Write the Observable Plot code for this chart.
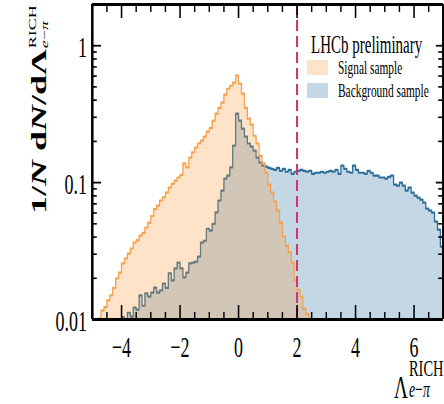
<!DOCTYPE html>
<html>
<head>
<meta charset="utf-8">
<script src="https://cdn.jsdelivr.net/npm/d3@7"></script>
<script src="https://cdn.jsdelivr.net/npm/@observablehq/plot@0.6"></script>
<style>
  html, body { margin: 0; padding: 0; background: #fff; }
  #chart { position: relative; width: 444px; height: 404px; overflow: hidden; }
  #chart svg { display: block; transform-origin: 0 0; max-width: none !important; width: 740px !important; height: 404px !important; }
</style>
</head>
<body>
<div id="chart"></div>
<script>
// Axis ranges
const xDomain = [-5, 7];
const yDomain = [0.01, 2];

// Histogram binning (bin width 0.1 in the RICH e-pi delta log-likelihood)
const binWidth = 0.1;

// Signal sample (electrons), normalised counts per bin, first bin edge at -4.8
const signalFirstEdge = -4.8;
const signalValues = [
  0.0102, 0.0116, 0.0123, 0.0138, 0.015, 0.017, 0.020, 0.022, 0.0257, 0.0279,
  0.0303, 0.033, 0.0365, 0.038, 0.041, 0.043, 0.047, 0.051, 0.057, 0.064,
  0.068, 0.074, 0.078, 0.0845, 0.092, 0.098, 0.1035, 0.109, 0.114,
  0.138, 0.129, 0.152, 0.166, 0.18, 0.193, 0.203, 0.217, 0.236, 0.25,
  0.284, 0.319, 0.352, 0.384, 0.439, 0.485, 0.51, 0.537, 0.604,
  0.528, 0.446, 0.352, 0.293, 0.265, 0.22, 0.193, 0.157, 0.138, 0.118,
  0.0967, 0.0845, 0.0727, 0.0625, 0.051, 0.0404, 0.0347, 0.0309, 0.026, 0.0193,
  0.0165, 0.0147, 0.012, 0.011
];

// Background sample (pions), normalised counts per bin, first bin edge at -4.0
const backgroundFirstEdge = -4.0;
const backgroundValues = [
  0.0104, 0.01, 0.0112, 0.0105, 0.0122, 0.0118, 0.015, 0.0126, 0.0155, 0.0147,
  0.0157, 0.0171, 0.0157, 0.0163, 0.0183, 0.017, 0.0217, 0.0193, 0.0236, 0.026,
  0.0236, 0.0203, 0.022, 0.0257, 0.026, 0.0265, 0.0288, 0.0365, 0.0376, 0.046,
  0.0446, 0.050, 0.0606, 0.074, 0.0875, 0.107, 0.1125, 0.129, 0.186, 0.319,
  0.284, 0.248, 0.217, 0.193, 0.183, 0.171, 0.152, 0.14, 0.133, 0.131,
  0.128, 0.126, 0.124, 0.128, 0.122, 0.126, 0.12, 0.124, 0.116, 0.12,
  0.122, 0.124, 0.122, 0.12, 0.122, 0.116, 0.118, 0.118, 0.12, 0.118,
  0.12, 0.122, 0.12, 0.124, 0.116, 0.133, 0.126, 0.12, 0.118, 0.133,
  0.124, 0.118, 0.118, 0.116, 0.122, 0.118, 0.1125, 0.1125, 0.109, 0.109,
  0.107, 0.11, 0.1125, 0.0967, 0.095, 0.1, 0.095, 0.0875, 0.092, 0.0845,
  0.0804, 0.0777, 0.075, 0.0714, 0.0645, 0.0625, 0.0604, 0.0519, 0.0454, 0.0341
];

// Selection cut on the likelihood variable
const cutValue = [2];

// Axis ticks and labels
const xMajorTicks = [-4, -2, 0, 2, 4, 6];
const xMinorTicks = [-4.5, -3.5, -3, -2.5, -1.5, -1, -0.5, 0.5, 1, 1.5, 2.5, 3, 3.5, 4.5, 5, 5.5, 6.5];
const yMajorTicks = [0.01, 0.1, 1];
const yTickLabels = ["0.01", "0.1", "1"];
const yMinorTicks = [0.02, 0.03, 0.04, 0.05, 0.06, 0.07, 0.08, 0.09,
                     0.2, 0.3, 0.4, 0.5, 0.6, 0.7, 0.8, 0.9, 2];

const legendTitle = "LHCb preliminary";
const seriesNames = ["Signal sample", "Background sample"];

// Colours
const signalFill = "#fb9a3c", signalFillOpacity = 0.28, signalLine = "#f4a24f";
const backgroundFill = "#c3d7e5", backgroundLine = "#2e6f98";
const cutColour = "#cf3570";

// The figure is laid out in a wide frame and squeezed horizontally,
// giving the narrow lettering of the printed plot.
const squeeze = 0.6;
const W = 444 / squeeze;
const H = 404;
const marginLeft = 92 / squeeze;
const marginRight = W - 443 / squeeze;
const marginTop = 4;
const marginBottom = 85;
const innerW = W - marginLeft - marginRight;
const innerH = H - marginTop - marginBottom;
const serif = "'Liberation Serif', 'Times New Roman', Times, serif";

// Step outline of a histogram: rises from the floor at the first edge,
// runs across each bin, and drops back to the floor at the last edge.
function stepOutline(firstEdge, values) {
  const floor = yDomain[0];
  const edge = i => +(firstEdge + i * binWidth).toFixed(3);
  const pts = [{x: edge(0), v: floor}];
  values.forEach((v, i) => pts.push({x: edge(i), v}));
  pts.push({x: edge(values.length), v: values[values.length - 1]});
  pts.push({x: edge(values.length), v: floor});
  return pts;
}

const signal = stepOutline(signalFirstEdge, signalValues);
const background = stepOutline(backgroundFirstEdge, backgroundValues);
const fmtX = d => d < 0 ? "\u2212" + Math.abs(d) : String(d);

const chart = Plot.plot({
  width: W,
  height: H,
  marginLeft, marginRight, marginTop, marginBottom,
  x: {domain: xDomain, axis: null},
  y: {type: "log", domain: yDomain, axis: null},
  style: {fontFamily: serif, background: "#fff", overflow: "visible"},
  marks: [
    Plot.areaY(background, {x: "x", y1: yDomain[0], y2: "v", curve: "step-after", fill: backgroundFill, clip: true}),
    Plot.lineY(background, {x: "x", y: "v", curve: "step-after", stroke: backgroundLine, strokeWidth: 2.2, clip: true}),
    Plot.areaY(signal, {x: "x", y1: yDomain[0], y2: "v", curve: "step-after", fill: signalFill, fillOpacity: signalFillOpacity, clip: true}),
    Plot.lineY(signal, {x: "x", y: "v", curve: "step-after", stroke: signalLine, strokeWidth: 2.2, clip: true}),
    Plot.ruleX(cutValue, {x: d => d, stroke: cutColour, strokeWidth: 3.4, strokeDasharray: "11,5"}),

    // inward ticks on all four sides
    Plot.ruleX(xMajorTicks, {x: d => d, insetTop: innerH - 14, stroke: "#000", strokeWidth: 2.6}),
    Plot.ruleX(xMinorTicks, {x: d => d, insetTop: innerH - 7, stroke: "#000", strokeWidth: 2.4}),
    Plot.ruleX(xMajorTicks, {x: d => d, insetBottom: innerH - 14, stroke: "#000", strokeWidth: 2.6}),
    Plot.ruleX(xMinorTicks, {x: d => d, insetBottom: innerH - 8, stroke: "#000", strokeWidth: 2.4}),
    Plot.ruleY(yMajorTicks, {y: d => d, insetRight: innerW - 15, stroke: "#000", strokeWidth: 1.8}),
    Plot.ruleY(yMinorTicks, {y: d => d, insetRight: innerW - 8, stroke: "#000", strokeWidth: 1.6}),
    Plot.ruleY(yMajorTicks, {y: d => d, insetLeft: innerW - 12, stroke: "#000", strokeWidth: 1.8}),
    Plot.ruleY(yMinorTicks, {y: d => d, insetLeft: innerW - 8, stroke: "#000", strokeWidth: 1.6}),

    // frame
    Plot.ruleX(xDomain, {x: d => d, stroke: "#000", strokeWidth: 4.2}),
    Plot.ruleY(yDomain, {y: d => d, stroke: "#000", strokeWidth: 2.8}),

    // tick labels
    Plot.text(xMajorTicks, {x: d => d, text: fmtX, frameAnchor: "bottom", lineAnchor: "top", dy: 16, fontSize: 30, fill: "#000"}),
    Plot.text(yMajorTicks, {y: d => d, text: (d, i) => yTickLabels[i], frameAnchor: "left", textAnchor: "end", dx: -9, dy: 2, fontSize: 30, fill: "#000"})
  ]
});

document.getElementById("chart").appendChild(chart);
chart.style.transform = `scaleX(${squeeze})`;

const svg = d3.select(chart);

// y-axis title: 1/N dN/dΛ with RICH over e−π
const yTitle = svg.append("g")
  .attr("transform", `translate(${46 / squeeze},214) rotate(-90)`)
  .attr("font-family", serif)
  .attr("text-anchor", "start")
  .attr("fill", "#000");
const yMain = yTitle.append("text").attr("font-size", 36).attr("font-weight", "bold");
yMain.append("tspan").text("1/");
yMain.append("tspan").attr("font-style", "italic").text("N");
yMain.append("tspan").text(" d");
yMain.append("tspan").attr("font-style", "italic").text("N");
yMain.append("tspan").text("/d\u039B");
const yLen = yMain.node().getComputedTextLength();
yTitle.append("text").attr("x", yLen + 1).attr("y", -16).attr("font-size", 18).text("RICH");
const ySub = yTitle.append("text").attr("x", yLen + 1).attr("y", 4).attr("font-size", 18);
ySub.append("tspan").attr("font-style", "italic").text("e");
ySub.append("tspan").text("\u2212");
ySub.append("tspan").attr("font-style", "italic").text("\u03C0");

// x-axis title: Λ with RICH over e−π
const xTitle = svg.append("g").attr("font-family", serif).attr("text-anchor", "start").attr("fill", "#000");
xTitle.append("text").attr("x", 394 / squeeze).attr("y", 398).attr("font-size", 32).text("\u039B");
xTitle.append("text").attr("x", 409 / squeeze).attr("y", 376).attr("font-size", 24).text("RICH");
const xSub = xTitle.append("text").attr("x", 409 / squeeze).attr("y", 397).attr("font-size", 23);
xSub.append("tspan").attr("font-style", "italic").text("e");
xSub.append("tspan").text("\u2212");
xSub.append("tspan").attr("font-style", "italic").text("\u03C0");

// legend
const legend = svg.append("g").attr("font-family", serif).attr("text-anchor", "start").attr("fill", "#000");
legend.append("text").attr("x", 311 / squeeze).attr("y", 53).attr("font-size", 25).text(legendTitle);
const swatches = [
  {fill: signalFill, opacity: signalFillOpacity, y: 60},
  {fill: backgroundFill, opacity: 1, y: 83}
];
swatches.forEach((s, i) => {
  legend.append("rect")
    .attr("x", 307 / squeeze).attr("y", s.y)
    .attr("width", 21 / squeeze).attr("height", 15)
    .attr("fill", s.fill).attr("fill-opacity", s.opacity);
  legend.append("text")
    .attr("x", 338 / squeeze).attr("y", s.y + 14)
    .attr("font-size", 19)
    .text(seriesNames[i]);
});
</script>
</body>
</html>
